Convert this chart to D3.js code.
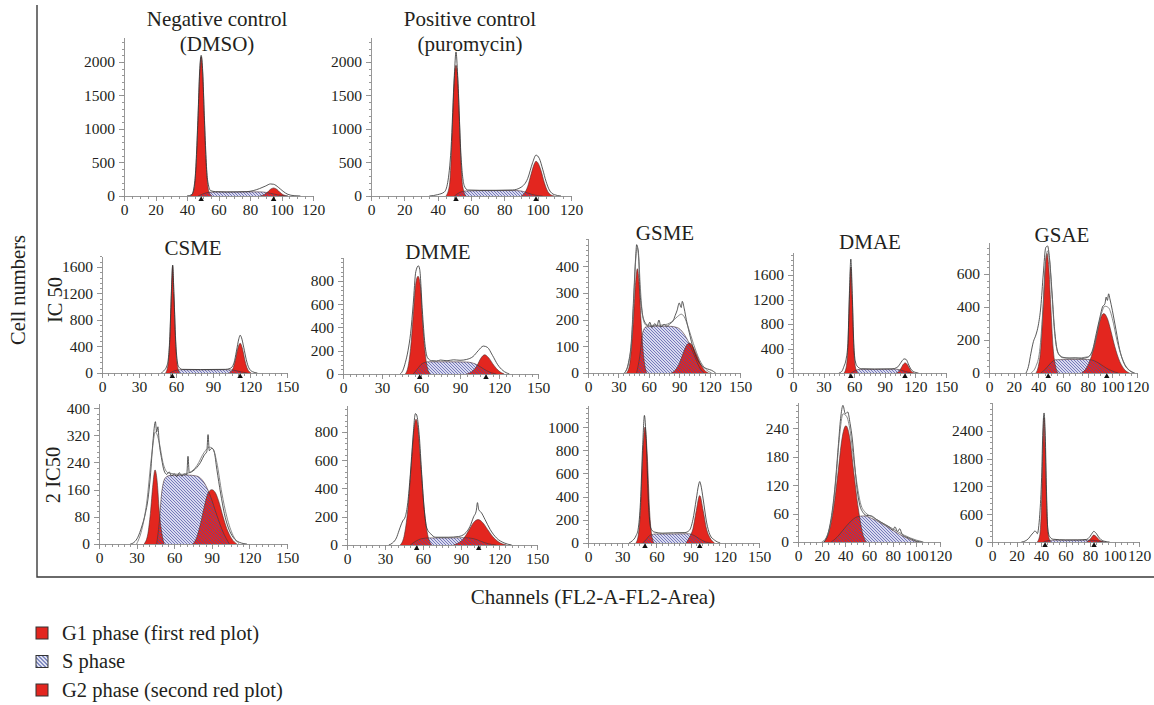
<!DOCTYPE html>
<html>
<meta charset="utf-8">
<style>
  body { margin: 0; background: #fff; }
  text { font-family: 'Liberation Serif', 'DejaVu Serif', serif; fill: #231f20; }
  .axis path, .axis line { stroke: #8c8c8c; stroke-width: 0.9; shape-rendering: crispEdges; }
  .axis text { font-size: 15.5px; }
</style>
<body>
<script src="https://d3js.org/d3.v7.min.js"></script>
<script>
  // ---- values: [channel, cell count] ----
  // negative control (DMSO)
  let negG1 = [[42,0],[44,60],[45,200],[46,560],[47,1150],[48,1800],[49,2080],[50,1800],[51,1150],[52,560],[53,200],[54,60],[56,0]];
  let negS = [[47,0],[50,30],[54,55],[60,60],[70,60],[80,62],[88,60],[93,40],[98,15],[104,0]];
  let negG2 = [[86,0],[89,20],[91,55],[93,100],[95,120],[97,100],[99,55],[101,20],[104,0]];
  let negRaw = [[40,0],[43,20],[45,230],[47,1200],[48,1850],[49,2100],[50,1850],[51,1200],[53,250],[55,80],[58,65],[65,60],[72,62],[78,65],[82,80],[86,110],[90,150],[93,180],[95,175],[98,130],[101,70],[104,25],[108,5],[112,0]];
  let negMarks = [49, 95];

  // positive control (puromycin)
  let posG1 = [[45,0],[47,150],[48,500],[49,1150],[50,1750],[51,1950],[52,1750],[53,1150],[54,500],[55,150],[57,0]];
  let posS = [[50,0],[53,50],[57,75],[65,80],[75,80],[85,82],[90,75],[94,45],[98,15],[103,0]];
  let posG2 = [[90,0],[92,40],[94,140],[96,320],[98,480],[99,520],[100,500],[102,380],[104,200],[106,70],[108,15],[110,0]];
  let posRaw = [[35,0],[40,20],[44,60],[46,200],[48,700],[50,1800],[51,2150],[52,1800],[54,600],[56,150],[58,90],[65,85],[75,85],[85,90],[90,130],[94,260],[97,500],[99,610],[101,560],[103,400],[105,220],[107,90],[110,20],[114,0]];
  let posMarks = [51, 99];

  // IC 50
  let csmeIc50G1 = [[51.5,0],[53.5,120],[55,500],[56.3,1200],[57.3,1620],[58.3,1200],[59.6,500],[61,130],[63,0]];
  let csmeIc50S = [[55,0],[59,35],[64,50],[80,48],[100,50],[106,45],[112,20],[118,0]];
  let csmeIc50G2 = [[103,0],[106,60],[108,180],[110,360],[112,450],[114,360],[116,180],[118,60],[121,0]];
  let csmeIc50Raw = [[48,0],[50,30],[53,130],[55,550],[56.3,1250],[57.3,1630],[58.3,1200],[60,400],[62,100],[65,55],[80,52],[100,55],[104,70],[107,150],[109,330],[111,520],[112,570],[113,540],[115,380],[117,200],[119,80],[122,20],[126,0]];
  let csmeIc50Marks = [57, 112];

  let dmmeIc50G1 = [[48,0],[50,60],[52,220],[54,500],[56,780],[57.7,840],[59.5,760],[61,480],[63,200],[65,50],[67,0]];
  let dmmeIc50S = [[54,0],[57,40],[61,90],[66,105],[80,105],[95,103],[102,85],[108,45],[113,15],[118,0]];
  let dmmeIc50G2 = [[95,0],[99,20],[103,70],[106,135],[109,165],[112,140],[116,75],[120,25],[124,0]];
  let dmmeIc50Raw = [[44,0],[46,30],[48,100],[50,200],[52,350],[54,600],[56,880],[58,930],[59,900],[61,550],[63,260],[65,140],[68,115],[72,112],[75,120],[80,114],[85,122],[90,118],[95,125],[100,150],[104,200],[108,240],[111,230],[115,160],[119,80],[123,30],[128,0]];
  let dmmeIc50Marks = [59, 110];

  let gsmeIc50G1 = [[38,0],[41,30],[43,100],[45,210],[47,340],[48.7,390],[50.5,330],[52,220],[54,100],[56,30],[58,0]];
  let gsmeIc50S = [[48,0],[51,60],[54,150],[57,172],[65,175],[80,175],[88,170],[94,150],[100,110],[106,55],[111,15],[115,0]];
  let gsmeIc50G2 = [[82,0],[86,10],[90,35],[94,75],[97,102],[100,112],[103,102],[107,70],[111,35],[115,10],[119,0]];
  let gsmeIc50Raw = [[36,0],[40,40],[43,130],[45,280],[47,430],[48,480],[49,470],[50,440],[51,330],[53,240],[55,200],[57,185],[59,175],[61,190],[63,170],[66,185],[68,175],[70,198],[72,172],[75,182],[78,175],[81,185],[84,195],[86,215],[88,235],[90,262],[92,245],[93,268],[95,240],[97,200],[100,150],[104,90],[108,50],[113,25],[118,15],[122,10],[126,0]];
  let gsmeIc50Fit = [[36,0],[40,35],[43,120],[45,260],[47,420],[48.5,470],[50,430],[52,300],[54,210],[57,180],[65,178],[75,180],[82,190],[88,210],[92,220],[95,210],[99,170],[104,110],[110,50],[116,15],[122,0]];
  let gsmeIc50Marks = [];

  let dmaeIc50G1 = [[50,0],[52,80],[53.8,420],[55.3,1200],[56.7,1730],[58.1,1200],[59.6,420],[61.4,80],[63.5,0]];
  let dmaeIc50S = [[57,0],[61,40],[66,60],[80,60],[100,62],[105,52],[110,25],[116,0]];
  let dmaeIc50G2 = [[101,0],[104,30],[106,80],[108,140],[110,165],[112,140],[114,80],[116,30],[119,0]];
  let dmaeIc50Raw = [[45,0],[48,30],[50,110],[52,220],[53.8,480],[55.3,1300],[56.7,1860],[58.1,1300],[59.6,480],[61,200],[63,110],[67,70],[80,65],[97,68],[102,90],[105,150],[107,200],[109,230],[111,220],[113,150],[115,80],[118,25],[123,0]];
  let dmaeIc50Marks = [56.7, 109.8];

  let gsaeIc50G1 = [[38,0],[40,40],[42,150],[44,420],[45.5,640],[47,725],[48.5,640],[50,420],[52,150],[54,40],[56,0]];
  let gsaeIc50S = [[42,0],[46,25],[50,60],[54,80],[65,82],[80,82],[85,75],[90,55],[95,30],[100,12],[105,0]];
  let gsaeIc50G2 = [[75,0],[79,30],[83,100],[87,220],[90,320],[93,360],[96,330],[99,250],[102,160],[106,70],[110,20],[114,0]];
  let gsaeIc50Raw = [[30,0],[32,40],[34,120],[36,190],[38,230],[40,290],[42,400],[44,600],[46,760],[47.5,770],[49,700],[51,500],[53,280],[55,150],[57,110],[60,95],[65,90],[70,92],[75,88],[80,95],[84,140],[87,240],[90,340],[92,400],[94,420],[95,460],[96,440],[97,480],[98,450],[100,380],[103,260],[106,140],[110,50],[114,15],[118,0]];
  let gsaeIc50Fit = [[34,0],[38,40],[41,130],[44,420],[46,680],[47.5,740],[49,690],[51,480],[53,260],[56,120],[60,92],[70,90],[80,98],[85,150],[89,290],[92,380],[94,405],[97,395],[100,330],[104,190],[109,70],[114,15],[118,0]];
  let gsaeIc50Marks = [48, 95.5];

  // 2 IC50
  let csme2Ic50G1 = [[36,0],[39,30],[41,90],[43,175],[44.7,218],[46.5,180],[48,100],[50,35],[52,0]];
  let csme2Ic50S = [[46,0],[48,60],[50,150],[53,195],[57,202],[70,203],[78,200],[84,180],[89,140],[94,85],[99,35],[104,0]];
  let csme2Ic50G2 = [[75,0],[78,20],[81,60],[84,110],[87,150],[90,160],[93,150],[96,120],[99,80],[102,45],[106,15],[110,0]];
  let csme2Ic50Raw = [[25,0],[28,5],[31,20],[34,50],[37,90],[39,130],[41,200],[43,300],[45,360],[46,330],[47,345],[48,300],[50,250],[52,215],[54,205],[56,212],[58,200],[60,207],[62,198],[64,210],[66,200],[68,206],[70,204],[71,258],[72,210],[75,215],[78,225],[81,240],[84,262],[86,272],[87,322],[88,275],[90,282],[92,270],[94,220],[97,150],[100,90],[103,50],[107,20],[112,5],[118,0]];
  let csme2Ic50Fit = [[30,0],[34,40],[38,120],[42,260],[45,330],[48,300],[51,240],[55,210],[65,205],[72,210],[78,230],[84,270],[88,285],[91,280],[94,240],[98,150],[102,80],[107,25],[112,0]];
  let csme2Ic50Marks = [];

  let dmme2Ic50G1 = [[42,0],[45,60],[48,250],[51,600],[53,830],[54.5,890],[56,830],[58,600],[61,250],[64,60],[67,0]];
  let dmme2Ic50S = [[50,0],[54,25],[59,45],[65,50],[80,50],[92,52],[100,45],[106,25],[112,8],[118,0]];
  let dmme2Ic50G2 = [[84,0],[88,15],[92,45],[96,100],[100,160],[103.5,180],[107,160],[111,110],[115,60],[120,20],[126,0]];
  let dmme2Ic50Raw = [[33,0],[36,15],[39,50],[41,100],[43,150],[44,170],[46,200],[48,300],[50,500],[52,750],[54,930],[55,920],[57,780],[59,500],[61,250],[63,120],[66,80],[70,55],[80,55],[88,60],[93,80],[97,130],[100,200],[102,240],[103,300],[104,250],[106,230],[109,180],[113,110],[118,50],[124,15],[130,0]];
  let dmme2Ic50Marks = [55, 104];

  let gsme2Ic50G1 = [[42,0],[44,60],[46,280],[48,750],[50,1000],[52,750],[54,280],[56,60],[58,0]];
  let gsme2Ic50S = [[48,0],[51,30],[55,70],[60,78],[75,78],[88,80],[93,65],[98,35],[103,10],[108,0]];
  let gsme2Ic50G2 = [[86,0],[89,50],[92,120],[95,280],[98,410],[101,280],[104,120],[107,45],[111,0]];
  let gsme2Ic50Raw = [[36,0],[39,20],[42,60],[44,120],[46,350],[48,850],[49.5,1100],[51,900],[53,350],[55,130],[58,95],[65,85],[75,88],[85,90],[89,110],[92,200],[95,380],[97,500],[98,530],[99,500],[101,380],[104,180],[107,70],[111,25],[116,0]];
  let gsme2Ic50Marks = [50, 98];

  let dmae2Ic50G1 = [[22,0],[26,20],[30,70],[34,150],[37,215],[40.5,245],[44,215],[47,150],[51,70],[55,15],[58,0]];
  let dmae2Ic50S = [[28,0],[33,10],[38,25],[44,42],[50,53],[56,55],[62,50],[70,40],[78,28],[86,16],[94,6],[101,0]];
  let dmae2Ic50G2 = [];
  let dmae2Ic50Raw = [[22,0],[25,15],[28,50],[31,110],[34,200],[36,260],[38,288],[40,270],[42,274],[44,250],[46,215],[48,160],[50,110],[52,80],[55,62],[58,56],[62,55],[66,48],[70,42],[74,36],[78,30],[80,25],[82,32],[84,22],[86,28],[88,16],[92,10],[96,6],[100,2],[105,0]];
  let dmae2Ic50Fit = [[20,0],[24,10],[28,45],[32,130],[35,220],[38,270],[41,265],[44,235],[47,175],[50,120],[53,80],[57,62],[62,54],[70,42],[80,28],[90,14],[100,4],[106,0]];
  let dmae2Ic50Marks = [];

  let gsae2Ic50G1 = [[37,0],[39,150],[40.5,900],[41.5,2000],[42.5,2680],[43.5,2000],[44.5,900],[46,150],[48,0]];
  let gsae2Ic50S = [[42,0],[45,25],[50,40],[65,40],[78,42],[83,35],[88,15],[93,0]];
  let gsae2Ic50G2 = [[77,0],[79,30],[81,90],[83,150],[85,120],[87,60],[89,20],[91,0]];
  let gsae2Ic50Raw = [[24,0],[27,20],[30,80],[32,150],[34,210],[35,240],[36,220],[37,180],[38,300],[39,600],[40.5,1400],[41.5,2400],[42.5,2790],[43.5,2300],[44.5,1100],[45.5,300],[47,120],[50,60],[60,45],[70,45],[77,55],[80,120],[82,200],[83,230],[85,190],[87,110],[89,50],[92,15],[96,0]];
  let gsae2Ic50Marks = [43.3, 83.3];

  // tick labels
  let xTicks120 = [0, 20, 40, 60, 80, 100, 120];
  let xTicks150 = [0, 30, 60, 90, 120, 150];
  let yTicksCtrl = [0, 500, 1000, 1500, 2000];
  let yTicksCsme = [0, 400, 800, 1200, 1600];
  let yTicksDmme = [0, 200, 400, 600, 800];
  let yTicksGsme = [0, 100, 200, 300, 400];
  let yTicksDmae = [0, 400, 800, 1200, 1600];
  let yTicksGsae = [0, 200, 400, 600];
  let yTicksCsme2 = [0, 80, 160, 240, 320, 400];
  let yTicksDmme2 = [0, 200, 400, 600, 800];
  let yTicksGsme2 = [0, 200, 400, 600, 800, 1000];
  let yTicksDmae2 = [0, 60, 120, 180, 240];
  let yTicksGsae2 = [0, 600, 1200, 1800, 2400];

  let legendLabels = ["G1 phase (first red plot)", "S phase", "G2 phase (second red plot)"];

  // ---- layout ----
  let width = 1154, height = 705;
  let RED = "#e3261f";

  let panels = [
    {title: ["Negative control", "(DMSO)"], tx: 217, ty: 26, x0: 124, x1: 313, y0: 196, yTop: 37, xMax: 120, yMax: 2373, xTicks: xTicks120, yTicks: yTicksCtrl, yMinor: 100,
     g1: negG1, s: negS, g2: negG2, raw: [negRaw], marks: negMarks},
    {title: ["Positive control", "(puromycin)"], tx: 470, ty: 26, x0: 371, x1: 571, y0: 196, yTop: 37, xMax: 120, yMax: 2373, xTicks: xTicks120, yTicks: yTicksCtrl, yMinor: 100,
     g1: posG1, s: posS, g2: posG2, raw: [posRaw], marks: posMarks},
    {title: ["CSME"], tx: 193, ty: 255, x0: 102, x1: 287, y0: 373, yTop: 256, xMax: 150, yMax: 1766, xTicks: xTicks150, yTicks: yTicksCsme, yMinor: 80,
     g1: csmeIc50G1, s: csmeIc50S, g2: csmeIc50G2, raw: [csmeIc50Raw], marks: csmeIc50Marks},
    {title: ["DMME"], tx: 438, ty: 259, x0: 343, x1: 538, y0: 374, yTop: 257, xMax: 150, yMax: 1006, xTicks: xTicks150, yTicks: yTicksDmme, yMinor: 40,
     g1: dmmeIc50G1, s: dmmeIc50S, g2: dmmeIc50G2, raw: [dmmeIc50Raw], marks: dmmeIc50Marks},
    {title: ["GSME"], tx: 665, ty: 240, x0: 588, x1: 740, y0: 373, yTop: 238, xMax: 150, yMax: 505, xTicks: xTicks150, yTicks: yTicksGsme, yMinor: 20,
     g1: gsmeIc50G1, s: gsmeIc50S, g2: gsmeIc50G2, raw: [gsmeIc50Raw, gsmeIc50Fit], marks: gsmeIc50Marks},
    {title: ["DMAE"], tx: 870, ty: 249, x0: 793, x1: 946, y0: 373, yTop: 252, xMax: 150, yMax: 1976, xTicks: xTicks150, yTicks: yTicksDmae, yMinor: 80,
     g1: dmaeIc50G1, s: dmaeIc50S, g2: dmaeIc50G2, raw: [dmaeIc50Raw], marks: dmaeIc50Marks},
    {title: ["GSAE"], tx: 1062, ty: 242, x0: 989, x1: 1137, y0: 373, yTop: 242, xMax: 120, yMax: 794, xTicks: xTicks120, yTicks: yTicksGsae, yMinor: 40,
     g1: gsaeIc50G1, s: gsaeIc50S, g2: gsaeIc50G2, raw: [gsaeIc50Raw, gsaeIc50Fit], marks: gsaeIc50Marks},
    {title: [], x0: 99, x1: 287, y0: 544, yTop: 403, xMax: 150, yMax: 415, xTicks: xTicks150, yTicks: yTicksCsme2, yMinor: 16,
     g1: csme2Ic50G1, s: csme2Ic50S, g2: csme2Ic50G2, raw: [csme2Ic50Raw, csme2Ic50Fit], marks: csme2Ic50Marks},
    {title: [], x0: 347, x1: 537, y0: 545, yTop: 405, xMax: 150, yMax: 991, xTicks: xTicks150, yTicks: yTicksDmme2, yMinor: 40,
     g1: dmme2Ic50G1, s: dmme2Ic50S, g2: dmme2Ic50G2, raw: [dmme2Ic50Raw], marks: dmme2Ic50Marks},
    {title: [], x0: 588, x1: 759, y0: 543, yTop: 405, xMax: 150, yMax: 1190, xTicks: xTicks150, yTicks: yTicksGsme2, yMinor: 40,
     g1: gsme2Ic50G1, s: gsme2Ic50S, g2: gsme2Ic50G2, raw: [gsme2Ic50Raw], marks: gsme2Ic50Marks},
    {title: [], x0: 798, x1: 940, y0: 542, yTop: 402, xMax: 120, yMax: 295, xTicks: xTicks120, yTicks: yTicksDmae2, yMinor: 12,
     g1: dmae2Ic50G1, s: dmae2Ic50S, g2: dmae2Ic50G2, raw: [dmae2Ic50Raw, dmae2Ic50Fit], marks: dmae2Ic50Marks},
    {title: [], x0: 992, x1: 1139, y0: 542, yTop: 402, xMax: 120, yMax: 3027, xTicks: xTicks120, yTicks: yTicksGsae2, yMinor: 120,
     g1: gsae2Ic50G1, s: gsae2Ic50S, g2: gsae2Ic50G2, raw: [gsae2Ic50Raw], marks: gsae2Ic50Marks}
  ];

  let svg = d3.select("body").append("svg")
    .attr("width", width)
    .attr("height", height);

  svg.append("rect").attr("width", width).attr("height", height).attr("fill", "#fff");

  let defs = svg.append("defs");
  // hatch for S phase (lines only, laid over the fills)
  defs.append("pattern")
    .attr("id", "hatch")
    .attr("patternUnits", "userSpaceOnUse")
    .attr("width", 3).attr("height", 3)
    .append("path")
      .attr("d", "M-1,-1L4,4M-1,2L1,4M2,-1L4,1")
      .attr("stroke", "#4a4fa6")
      .attr("stroke-width", 0.7);
  let lp = defs.append("pattern")
    .attr("id", "hatchLegend")
    .attr("patternUnits", "userSpaceOnUse")
    .attr("width", 4).attr("height", 4);
  lp.append("rect").attr("width", 4).attr("height", 4).attr("fill", "#fff");
  lp.append("path")
    .attr("d", "M-1,-1L5,5M-1,3L1,5M3,-1L5,1")
    .attr("stroke", "#3b4aa0")
    .attr("stroke-width", 1.2);

  // frame
  svg.append("path")
    .attr("d", "M37,5V577H1154")
    .attr("fill", "none")
    .attr("stroke", "#3a3a3a")
    .attr("stroke-width", 1.4);

  function drawPanel(p) {
    let x = d3.scaleLinear().domain([0, p.xMax]).range([p.x0, p.x1]);
    let y = d3.scaleLinear().domain([0, p.yMax]).range([p.y0, p.yTop]);
    let g = svg.append("g");

    let area = d3.area()
      .x(d => x(d[0]))
      .y0(y(0))
      .y1(d => y(d[1]))
      .curve(d3.curveMonotoneX);
    let line = d3.line()
      .x(d => x(d[0]))
      .y(d => y(d[1]))
      .curve(d3.curveMonotoneX);

    // S phase background
    g.append("path").datum(p.s).attr("d", area).attr("fill", "#d9daef");
    // G1 / G2
    [p.g1, p.g2].filter(c => c.length).forEach(c => {
      g.append("path").datum(c).attr("d", area).attr("fill", RED);
    });
    // hatch over everything in S
    g.append("path").datum(p.s).attr("d", area).attr("fill", "url(#hatch)");
    // component outlines
    [p.g1, p.s, p.g2].filter(c => c.length).forEach(c => {
      g.append("path").datum(c).attr("d", line)
        .attr("fill", "none").attr("stroke", "#4a3030").attr("stroke-width", 0.6);
    });
    // measured traces
    p.raw.forEach((r, i) => {
      g.append("path").datum(r).attr("d", line)
        .attr("fill", "none")
        .attr("stroke", i == 0 ? "#2e2e2e" : "#6a6a6a")
        .attr("stroke-width", 0.8);
    });

    // y axis: major + minor
    let yMinorTicks = d3.range(0, p.yMax, p.yMinor);
    g.append("g").attr("class", "axis")
      .attr("transform", `translate(${p.x0},0)`)
      .call(d3.axisLeft(y).tickValues(yMinorTicks).tickSize(2.5).tickSizeOuter(0).tickFormat(""));
    g.append("g").attr("class", "axis")
      .attr("transform", `translate(${p.x0},0)`)
      .call(d3.axisLeft(y).tickValues(p.yTicks).tickSize(5).tickSizeOuter(0).tickPadding(4).tickFormat(d3.format("d")))
      .call(a => a.select(".domain").remove());

    // x axis
    let xMinorTicks = d3.range(0, p.xMax + 0.1, 5);
    g.append("g").attr("class", "axis")
      .attr("transform", `translate(0,${p.y0})`)
      .call(d3.axisBottom(x).tickValues(xMinorTicks).tickSize(2.5).tickSizeOuter(0).tickFormat(""));
    g.append("g").attr("class", "axis")
      .attr("transform", `translate(0,${p.y0})`)
      .call(d3.axisBottom(x).tickValues(p.xTicks).tickSize(5).tickSizeOuter(0).tickPadding(3).tickFormat(d3.format("d")))
      .call(a => a.select(".domain").remove());

    // peak markers
    g.selectAll(".mark")
      .data(p.marks)
      .join("path")
        .attr("class", "mark")
        .attr("d", d3.symbol(d3.symbolTriangle, 13))
        .attr("transform", d => `translate(${x(d)},${p.y0 + 3.5})`)
        .attr("fill", "#111");

    // title
    p.title.forEach((t, i) => {
      g.append("text")
        .attr("x", p.tx)
        .attr("y", p.ty + i * 25)
        .attr("text-anchor", "middle")
        .style("font-size", "21px")
        .text(t);
    });
  }

  panels.forEach(drawPanel);

  // axis titles
  svg.append("text")
    .attr("transform", "translate(25,290) rotate(-90)")
    .attr("text-anchor", "middle")
    .style("font-size", "20.5px")
    .text("Cell numbers");
  svg.append("text")
    .attr("transform", "translate(62,300) rotate(-90)")
    .attr("text-anchor", "middle")
    .style("font-size", "20.5px")
    .text("IC 50");
  svg.append("text")
    .attr("transform", "translate(60,475) rotate(-90)")
    .attr("text-anchor", "middle")
    .style("font-size", "20.5px")
    .text("2 IC50");
  svg.append("text")
    .attr("x", 593)
    .attr("y", 604)
    .attr("text-anchor", "middle")
    .style("font-size", "21px")
    .text("Channels (FL2-A-FL2-Area)");

  // legend
  let legendFills = [RED, "url(#hatchLegend)", RED];
  let lg = svg.selectAll(".legend")
    .data(legendLabels)
    .join("g")
      .attr("class", "legend")
      .attr("transform", (d, i) => `translate(36,${633 + i * 28.5})`);
  lg.append("rect")
    .attr("x", 0).attr("y", -6)
    .attr("width", 12).attr("height", 12)
    .attr("fill", (d, i) => legendFills[i])
    .attr("stroke", "#333")
    .attr("stroke-width", 1);
  lg.append("text")
    .attr("x", 26)
    .attr("y", 6.5)
    .style("font-size", "20.5px")
    .text(d => d);
</script>
</body>
</html>
